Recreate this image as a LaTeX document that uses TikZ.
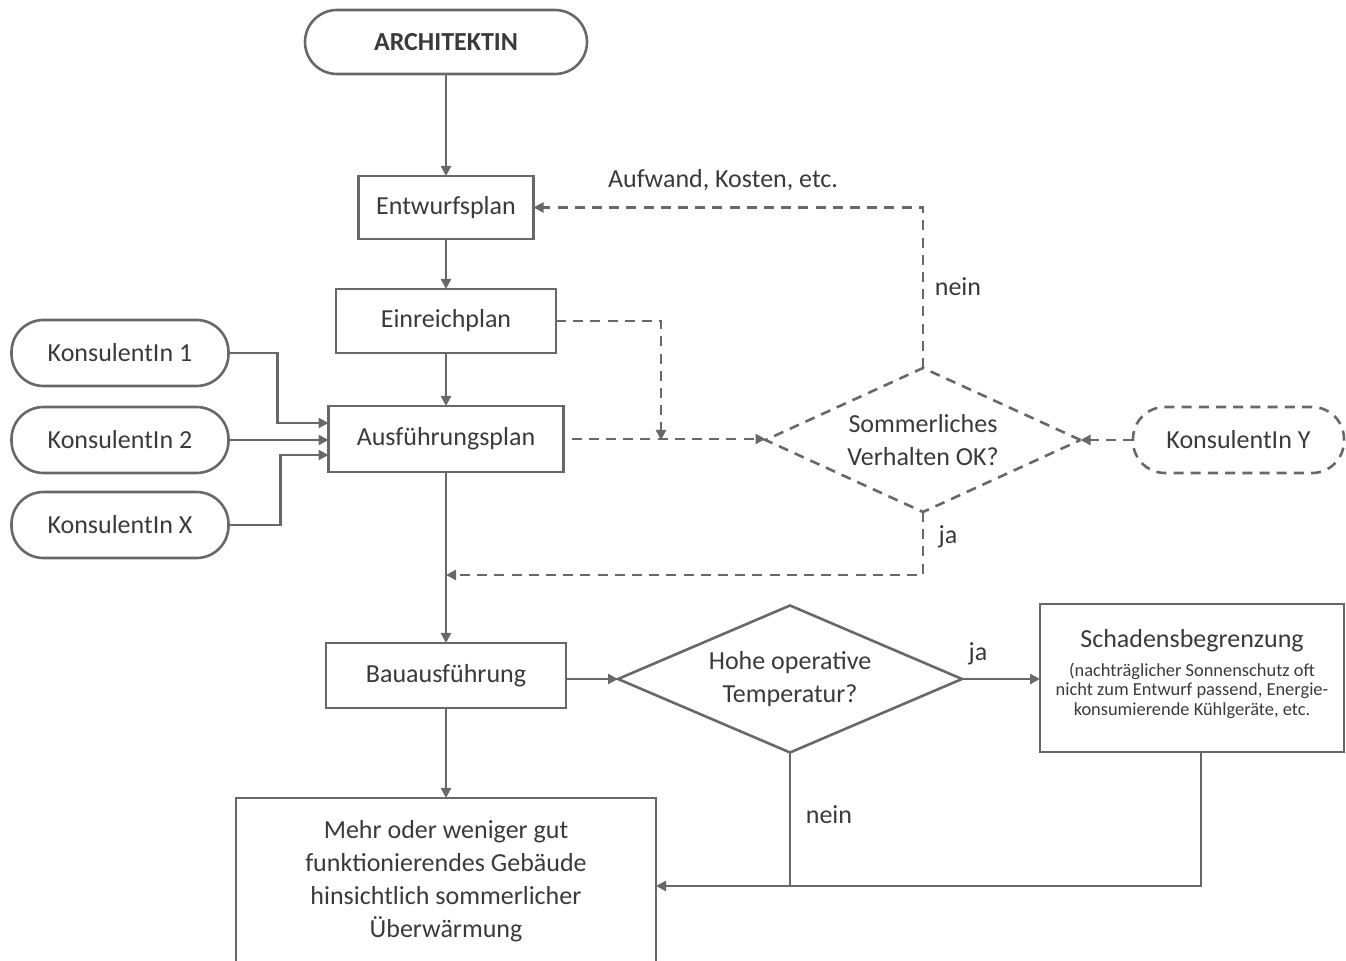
\documentclass[tikz,border=0pt]{standalone}
\usepackage{fontspec}
\setmainfont{Carlito}
\usetikzlibrary{positioning}
\usetikzlibrary{shapes.geometric}
\usetikzlibrary{arrows.meta}
\definecolor{liniengrau}{RGB}{104,104,104}
\definecolor{textgrau}{RGB}{58,58,58}

\begin{document}
\begin{tikzpicture}[x=0.5pt,y=-0.5pt,
    every node/.style={text=textgrau,inner sep=0pt,font=\fontsize{13}{16.5}\selectfont},
    kasten/.style={draw=liniengrau,line width=1.3pt,outer sep=0pt,rectangle,align=center},
    rund/.style={kasten,rounded corners=16pt,minimum width=108.5pt,minimum height=33pt},
    raute/.style={draw=liniengrau,line width=1.3pt,outer sep=0pt,diamond,align=center},
    linie/.style={draw=liniengrau,line width=1.3pt},
    pfeil/.style={linie,-{Triangle[length=5pt,width=5pt]}},
    strich/.style={dash pattern=on 5pt off 3.6pt}]
        \useasboundingbox (0,0) rectangle (1346,961);
        %% mittlere Spalte
        \node (arch) [rund,minimum width=141pt,minimum height=32pt,
              font=\bfseries\fontsize{13}{16.5}\selectfont] at (446,42) {ARCHITEKTIN};
        \node (entw) [kasten,minimum width=87.5pt,minimum height=31.5pt,below=51pt of arch] {Entwurfsplan};
        \draw[pfeil] (arch) -- (entw);
        \node (einr) [kasten,minimum width=110pt,minimum height=32pt,below=25pt of entw] {Einreichplan};
        \draw[pfeil] (entw) -- (einr);
        \node (ausf) [kasten,minimum width=117.5pt,minimum height=33pt,below=26.5pt of einr] {Ausführungsplan};
        \draw[pfeil] (einr) -- (ausf);
        \node (bau) [kasten,minimum width=120pt,minimum height=32.5pt,below=85.5pt of ausf] {Bauausführung};
        \draw[pfeil] (ausf) -- (bau);
        \node (geb) [kasten,minimum width=210pt,minimum height=83pt,below=45pt of bau]
             {Mehr oder weniger gut\\funktionierendes Gebäude\\hinsichtlich sommerlicher\\Überwärmung};
        \draw[pfeil] (bau) -- (geb);

        %% KonsulentInnen
        \node (kons1) [rund] at (120,353) {KonsulentIn 1};
        \node (kons2) [rund,below=10.5pt of kons1] {KonsulentIn 2};
        \node (konsx) [rund,below=9.5pt of kons2] {KonsulentIn X};
        \draw[pfeil] (kons1.east) -- ++(49,0) |- ([yshift=8pt]ausf.west);
        \draw[pfeil] (kons2.east) -- (kons2.east -| ausf.west);
        \draw[pfeil] (konsx.east) -- ++(52,0) |- ([yshift=-8pt]ausf.west);

        %% Pruefung sommerliches Verhalten
        \node (sok) [raute,strich,minimum width=157.5pt,minimum height=72pt,aspect=2.2] at (923,440)
             {Sommerliches\\Verhalten OK?};
        \node (konsy) [rund,strich,minimum width=105.5pt] at (1238.5,440) {KonsulentIn Y};
        \coordinate (mitte) at (661,440);
        \coordinate (rueck) at (446,575);
        \draw[pfeil,strich] (einr.east) -| (mitte);
        \draw[pfeil,strich] ([xshift=4pt]ausf.east) -- (ausf.east -| sok.west);
        \draw[pfeil,strich] (konsy.west) -- (konsy.west -| sok.east);
        \draw[pfeil,strich] (sok.north) |- (entw.east);
        \draw[pfeil,strich] (sok.south) |- (rueck);
        \node (aufw) at (723,180) {Aufwand, Kosten, etc.};
        \node (nein1) at (958,287) {nein};
        \node (ja1) at (948,537) {ja};

        %% Pruefung operative Temperatur
        \node (hot) [raute,minimum width=172pt,minimum height=73.5pt,aspect=2.3] at (790,679)
             {Hohe operative\\Temperatur?};
        \node (schad) [kasten,minimum width=152pt,minimum height=74pt,text width=148pt] at (1192,678)
             {\centering Schadensbegrenzung\par\vspace{4.5pt}%
              \fontsize{9.2}{9.7}\selectfont\spaceskip=0pt\xspaceskip=0pt
              (nachträglicher Sonnenschutz oft\par nicht zum Entwurf passend, Energie-\par
              konsumierende Kühlgeräte, etc.\par\vspace{4pt}};
        \draw[pfeil] (bau.east |- hot.west) -- (hot.west);
        \draw[pfeil] (hot.east) -- (hot.east -| schad.west);
        \coordinate (gebein) at ([yshift=-2.5pt]geb.east);
        \draw[pfeil] ([xshift=4.5pt]schad.south) |- (gebein);
        \draw[linie] (hot.south) -- (hot.south |- gebein);
        \node (ja2) at (978,654) {ja};
        \node (nein2) at (829,815) {nein};
\end{tikzpicture}
\end{document}
